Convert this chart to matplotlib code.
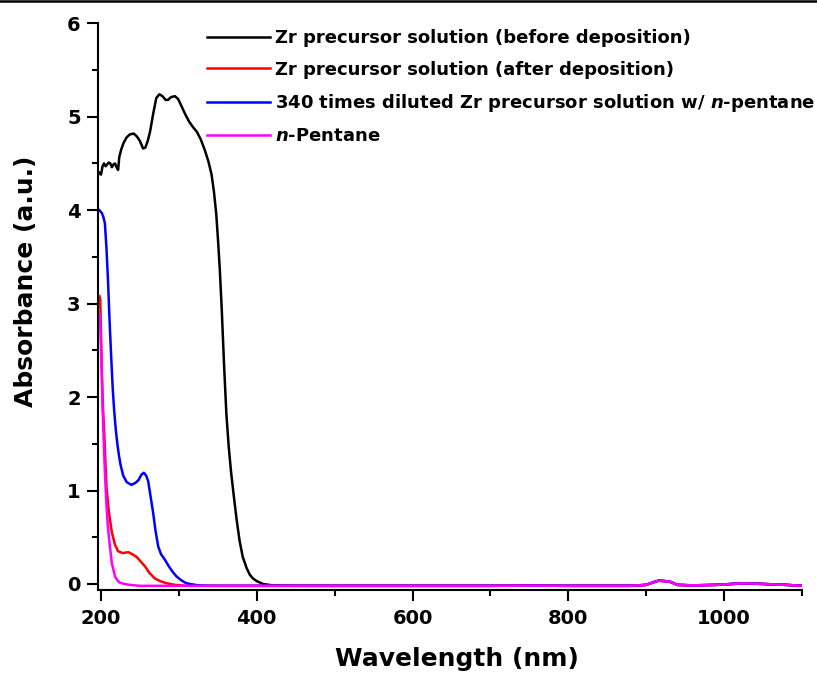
import numpy as np
import matplotlib
matplotlib.use('Agg')
import matplotlib.pyplot as plt
from matplotlib import rcParams
from matplotlib.lines import Line2D
from matplotlib.ticker import MultipleLocator

# Generic properties
rcParams['font.family'] = 'DejaVu Sans'
rcParams['font.weight'] = 'bold'
rcParams['mathtext.fontset'] = 'custom'
rcParams['mathtext.rm'] = 'DejaVu Sans:bold'
rcParams['mathtext.it'] = 'DejaVu Sans:italic:bold'

# Data
# shared flat tail (all four spectra overlap above ~420 nm)
tail_nm = [450, 500, 600, 700, 750, 800, 880, 900, 910, 916, 925, 932, 940, 960, 990, 1010, 1025, 1050, 1080, 1100]
tail_abs = [-0.02, -0.02, -0.02, -0.02, -0.018, -0.02, -0.02, -0.01, 0.02, 0.035, 0.03, 0.02, -0.01, -0.015, -0.01, 0.0, 0.007, 0.0, -0.01, -0.02]

before_nm = [198, 200, 202, 204, 206, 208, 210, 212, 214, 216, 218, 220, 222, 223.5, 226, 229, 233, 237, 242,
             246, 250, 254, 257, 260, 263, 267, 271, 275, 279, 283, 286, 290, 295, 299, 303, 308, 313, 318,
             323, 328, 333, 338, 342, 345, 348, 350.5, 352.6, 355, 358, 361, 364, 367, 370, 374, 378, 382, 387,
             391, 395, 400, 408, 420]
before_abs = [4.40, 4.38, 4.47, 4.50, 4.47, 4.49, 4.51, 4.50, 4.46, 4.49, 4.50, 4.46, 4.43, 4.57, 4.65, 4.72,
              4.78, 4.81, 4.82, 4.79, 4.74, 4.66, 4.67, 4.74, 4.84, 5.03, 5.20, 5.24, 5.22, 5.18, 5.18, 5.21,
              5.22, 5.19, 5.12, 5.03, 4.95, 4.89, 4.84, 4.76, 4.65, 4.52, 4.38, 4.20, 3.96, 3.65, 3.36, 2.95,
              2.35, 1.82, 1.47, 1.20, 0.98, 0.70, 0.46, 0.29, 0.17, 0.10, 0.06, 0.03, 0.0, -0.015]

after_nm = [198, 199, 200, 201, 202.5, 204.5, 207, 210, 214, 218, 222, 228, 235, 240, 245.6, 251, 256.4, 262,
            269, 276, 284, 295, 310, 350, 420]
after_abs = [3.08, 3.05, 2.70, 2.30, 1.90, 1.55, 1.04, 0.78, 0.55, 0.42, 0.35, 0.33, 0.34, 0.32, 0.29, 0.24,
             0.19, 0.12, 0.06, 0.03, 0.008, -0.01, -0.02, -0.02, -0.02]

diluted_nm = [198, 201, 203, 205, 207, 209, 211, 213, 215, 217, 219, 221, 223, 225, 228.5, 233, 239, 244, 248,
              252, 255, 258, 260.6, 264, 267, 270, 273.5, 277, 282, 287, 292, 297, 303, 309, 314, 325, 340, 420]
diluted_abs = [4.00, 3.97, 3.93, 3.86, 3.60, 3.25, 2.82, 2.45, 2.10, 1.85, 1.65, 1.50, 1.38, 1.28, 1.16, 1.09,
               1.06, 1.08, 1.11, 1.17, 1.19, 1.16, 1.10, 0.92, 0.76, 0.57, 0.40, 0.32, 0.26, 0.19, 0.13, 0.08,
               0.04, 0.01, 0.0, -0.015, -0.02, -0.02]

pentane_nm = [198.7, 200.5, 202, 203.5, 205, 207, 209, 211.5, 214, 218, 221, 224, 230, 237, 250, 420]
pentane_abs = [2.88, 2.40, 1.90, 1.54, 1.20, 0.85, 0.60, 0.40, 0.22, 0.08, 0.04, 0.015, 0.0, -0.01, -0.02, -0.02]

labels = ['Zr precursor solution (before deposition)',
          'Zr precursor solution (after deposition)',
          '340 times diluted Zr precursor solution w/ $n$-pentane',
          '$n$-Pentane']
colors = ['#000000', '#FF0000', '#0000FF', '#FF00FF']

series = [(before_nm, before_abs), (after_nm, after_abs), (diluted_nm, diluted_abs), (pentane_nm, pentane_abs)]

fig = plt.figure(figsize=(8.17, 6.81), dpi=100)
ax = fig.add_axes([0.1196, 0.1336, 0.8624, 0.8322])

for (nm, ab), lab, col in zip(series, labels, colors):
    x = np.concatenate([nm, tail_nm])
    y = np.concatenate([ab, tail_abs])
    ax.plot(x, y, color=col, lw=1.8, label=lab)

# axes, ticks, and labels
ax.set_xlim(195.8, 1100.5)
ax.set_ylim(-0.065, 6)
ax.xaxis.set_major_locator(MultipleLocator(200))
ax.xaxis.set_minor_locator(MultipleLocator(100))
ax.yaxis.set_major_locator(MultipleLocator(1))
ax.yaxis.set_minor_locator(MultipleLocator(0.5))
ax.spines['top'].set_visible(False)
ax.spines['right'].set_visible(False)
for s in ['left', 'bottom']:
    ax.spines[s].set_linewidth(1.5)
ax.tick_params(which='major', direction='out', length=8, width=1.5, labelsize=14)
ax.tick_params(which='minor', direction='out', length=4.5, width=1.5)
ax.tick_params(axis='x', which='major', pad=5.5)
ax.tick_params(axis='y', which='major', pad=4.3)

ax.set_xlabel('Wavelength (nm)', fontsize=18, fontweight='bold')
ax.set_ylabel('Absorbance (a.u.)', fontsize=18, fontweight='bold')
ax.xaxis.set_label_coords(0.51, -0.1)
ax.yaxis.set_label_coords(-0.085, 0.544)

ax.legend(loc='upper left', bbox_to_anchor=(0.2534, 0.957), bbox_transform=fig.transFigure,
          frameon=False, fontsize=13, handlelength=3.5, handletextpad=0.28, labelspacing=0.74,
          borderpad=0, borderaxespad=0)

# thin rule along the top edge of the picture
fig.add_artist(Line2D([0, 1], [1 - 1.3 / 681, 1 - 1.3 / 681], transform=fig.transFigure, color='k', lw=1.8))

fig.savefig('out.png', dpi=100)
